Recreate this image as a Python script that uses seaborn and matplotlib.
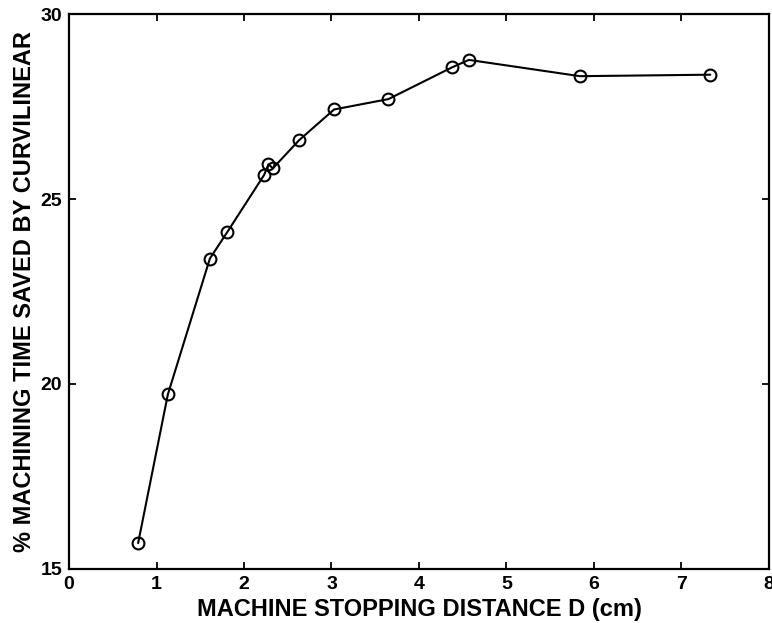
import numpy as np
import pandas as pd
import matplotlib
matplotlib.use("Agg")
import matplotlib.pyplot as plt
import seaborn as sns

# Data
stopping_distance = [0.79, 1.13, 1.61, 1.81, 2.23, 2.28, 2.33, 2.63, 3.03, 3.65, 4.38, 4.57, 5.84, 7.33]
time_saved = [15.70, 19.72, 23.39, 24.11, 25.65, 25.94, 25.83, 26.59, 27.42, 27.70, 28.56, 28.76, 28.32, 28.36]

x_ticks = [0, 1, 2, 3, 4, 5, 6, 7, 8]
y_ticks = [15, 20, 25, 30]

df = pd.DataFrame({"D": stopping_distance, "saved": time_saved})

sns.set_style("ticks")
plt.rcParams["font.family"] = ["Liberation Sans", "DejaVu Sans"]
plt.rcParams["text.color"] = "black"
plt.rcParams["axes.labelcolor"] = "black"
plt.rcParams["xtick.color"] = "black"
plt.rcParams["ytick.color"] = "black"

fig = plt.figure(figsize=(7.72, 6.23), dpi=100)
ax = fig.add_axes([0.0894, 0.0867, 0.9066, 0.8908])

sns.lineplot(
    data=df, x="D", y="saved", sort=False, ax=ax,
    color="black", linewidth=1.5,
    marker="o", markersize=8.5, markerfacecolor="none",
    markeredgecolor="black", markeredgewidth=1.5,
)

ax.set_xlim(0, 8)
ax.set_ylim(15, 30)
ax.set_xticks(x_ticks)
ax.set_yticks(y_ticks)
ax.tick_params(direction="in", top=True, right=True, length=5, width=1.3,
               labelsize=14, pad=5)
for lbl in ax.get_xticklabels() + ax.get_yticklabels():
    lbl.set_fontweight("bold")
for sp in ax.spines.values():
    sp.set_linewidth(1.6)
    sp.set_color("black")

ax.set_xlabel("MACHINE STOPPING DISTANCE D (cm)", fontsize=17, fontweight="bold", labelpad=4)
ax.set_ylabel("% MACHINING TIME SAVED BY CURVILINEAR", fontsize=17, fontweight="bold", labelpad=3)

fig.savefig("out.png", dpi=100)
